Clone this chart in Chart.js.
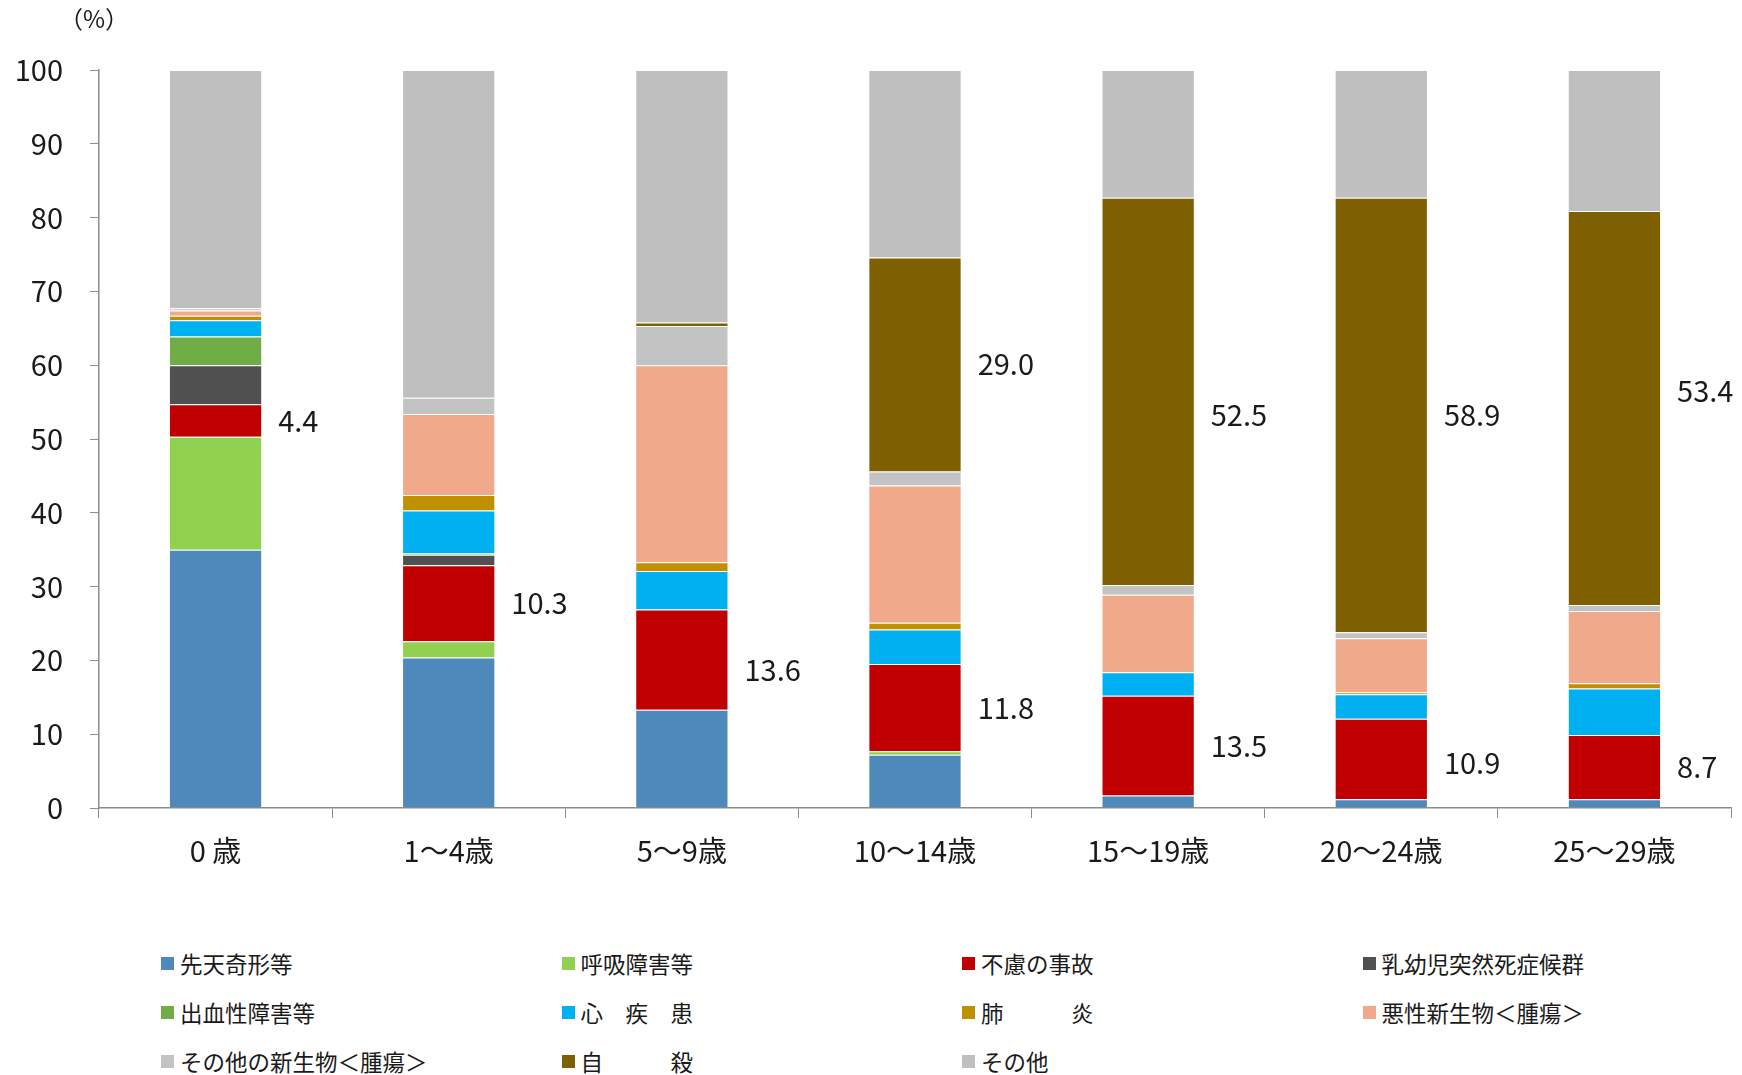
<!DOCTYPE html>
<html lang="ja">
<head>
<meta charset="utf-8">
<script src="https://cdn.jsdelivr.net/npm/chart.js@4"></script>
<style>
  body { margin: 0; background: #fff; font-family: "Noto Sans CJK JP", "Noto Sans", sans-serif; color: #1a1a1a; }
  #wrap { position: relative; width: 1742px; height: 1075px; }
  #chart { position: absolute; left: 0; top: 0; }
  #unit { position: absolute; left: 59px; top: 0px; font-size: 24px; }
  #legend { position: absolute; left: 161px; top: 947px; }
  .item { position: absolute; display: flex; align-items: center; font-size: 22.5px; white-space: pre; }
  .box { width: 13px; height: 13px; margin-right: 6px; }
</style>
</head>
<body>
<div id="wrap">
  <canvas id="chart" width="1742" height="880"></canvas>
  <div id="unit">（%）</div>
  <div id="legend"></div>
</div>
<script>
const categories = ["0 歳", "1～4歳", "5～9歳", "10～14歳", "15～19歳", "20～24歳", "25～29歳"];

// values in % per age group
const congenital    = [35.0, 20.4, 13.3,  7.2,  1.7,  1.2,  1.2];
const respiratory   = [15.3,  2.2,  0.0,  0.5,  0.0,  0.0,  0.0];
const accident      = [ 4.4, 10.3, 13.6, 11.8, 13.5, 10.9,  8.7];
const sids          = [ 5.3,  1.4,  0.0,  0.0,  0.0,  0.0,  0.0];
const hemorrhagic   = [ 3.9,  0.2,  0.0,  0.0,  0.0,  0.0,  0.0];
const heart         = [ 2.2,  5.8,  5.2,  4.7,  3.2,  3.3,  6.3];
const pneumonia     = [ 0.6,  2.1,  1.2,  0.9,  0.0,  0.3,  0.7];
const malignant     = [ 0.7, 11.0, 26.7, 18.6, 10.5,  7.3,  9.8];
const otherNeoplasm = [ 0.3,  2.2,  5.3,  1.9,  1.3,  0.8,  0.8];
const suicide       = [ 0.0,  0.0,  0.5, 29.0, 52.5, 58.9, 53.4];
const others        = [32.3, 44.4, 34.2, 25.4, 17.3, 17.3, 19.1];

const yTicks = [0, 10, 20, 30, 40, 50, 60, 70, 80, 90, 100];

const series = [
  { name: "先天奇形等", data: congenital, color: "#4F88BB" },
  { name: "呼吸障害等", data: respiratory, color: "#92D050" },
  { name: "不慮の事故", data: accident, color: "#C00000", labelMin: 0 },
  { name: "乳幼児突然死症候群", data: sids, color: "#505050" },
  { name: "出血性障害等", data: hemorrhagic, color: "#70AD47" },
  { name: "心　疾　患", data: heart, color: "#00B0F0" },
  { name: "肺　　　炎", data: pneumonia, color: "#BF9000" },
  { name: "悪性新生物＜腫瘍＞", data: malignant, color: "#F0A98B" },
  { name: "その他の新生物＜腫瘍＞", data: otherNeoplasm, color: "#C3C3C3" },
  { name: "自　　　殺", data: suicide, color: "#7F6000", labelMin: 10 },
  { name: "その他", data: others, color: "#BFBFBF" },
];

const FONT = "'Noto Sans CJK JP', 'Noto Sans', sans-serif";

// the original nudged a few labels off the segment centre (px, "series:category")
const labelNudge = { "2:2": 10, "2:5": 4, "9:4": 24, "9:6": -17 };

// value labels to the right of the accident / suicide segments
const sideLabels = {
  id: "sideLabels",
  afterDatasetsDraw(chart) {
    const ctx = chart.ctx;
    ctx.save();
    ctx.font = "29px " + FONT;
    ctx.fillStyle = "#1a1a1a";
    ctx.textAlign = "left";
    ctx.textBaseline = "middle";
    series.forEach((s, i) => {
      if (s.labelMin === undefined) return;
      chart.getDatasetMeta(i).data.forEach((bar, j) => {
        const v = s.data[j];
        if (!v || v < s.labelMin) return;
        const { x, y, base, width } = bar.getProps(["x", "y", "base", "width"], true);
        const dy = labelNudge[i + ":" + j] || 0;
        ctx.fillText(v.toFixed(1), x + width / 2 + 16, (y + base) / 2 + dy);
      });
    });
    ctx.restore();
  },
};

function buildLegend() {
  const legend = document.getElementById("legend");
  series.forEach((s, i) => {
    const item = document.createElement("div");
    item.className = "item";
    item.style.left = (i % 4) * 400.5 + "px";
    item.style.top = Math.floor(i / 4) * 49 + "px";
    item.innerHTML = `<span class="box" style="background:${s.color}"></span>${s.name}`;
    legend.appendChild(item);
  });
}

function renderChart() {
  const ctx = document.getElementById("chart").getContext("2d");
  new Chart(ctx, {
    type: "bar",
    data: {
      labels: categories,
      datasets: series.map((s) => ({
        label: s.name,
        data: s.data,
        backgroundColor: s.color,
        borderColor: "rgba(255,255,255,0.35)",
        borderWidth: 1,
        categoryPercentage: 1,
        barPercentage: 0.4,
      })),
    },
    options: {
      responsive: false,
      animation: false,
      layout: { padding: { top: 70, right: 11, left: 0, bottom: 0 } },
      plugins: { legend: { display: false }, tooltip: { enabled: false } },
      scales: {
        x: {
          stacked: true,
          grid: { offset: true, drawOnChartArea: false, tickLength: 10, color: "#8C8C8C" },
          border: { color: "#8C8C8C", width: 1.5 },
          ticks: { font: { family: FONT, size: 29 }, color: "#1a1a1a", padding: 16 },
          afterFit(scale) { scale.height = 72; },
        },
        y: {
          stacked: true,
          min: 0,
          max: 100,
          afterBuildTicks(scale) { scale.ticks = yTicks.map((v) => ({ value: v })); },
          grid: { drawOnChartArea: false, tickLength: 9, color: "#8C8C8C" },
          border: { color: "#8C8C8C", width: 1.5 },
          ticks: { font: { family: FONT, size: 29 }, color: "#1a1a1a", padding: 27 },
          afterFit(scale) { scale.width = 99; },
        },
      },
    },
    plugins: [sideLabels],
  });
}

buildLegend();
renderChart();
</script>
</body>
</html>
